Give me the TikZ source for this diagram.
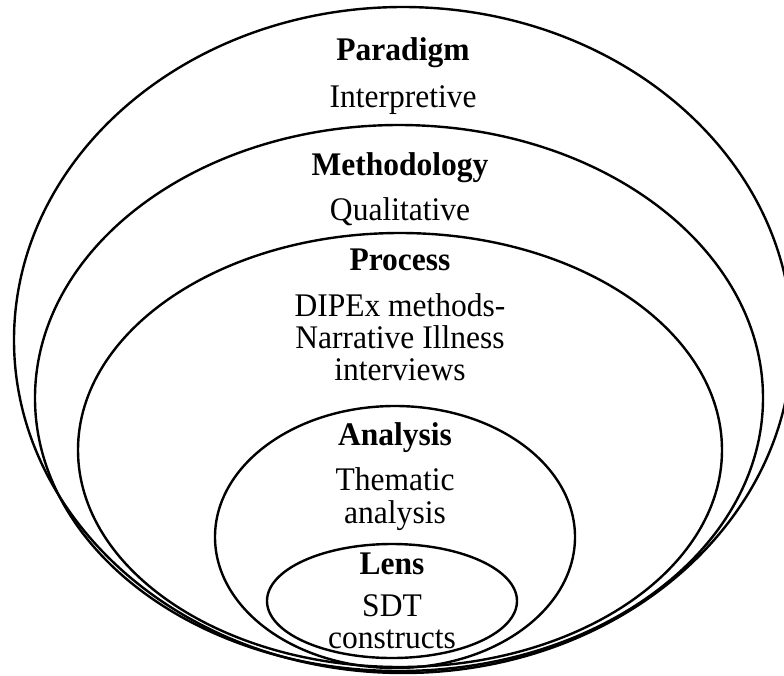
\documentclass[tikz,border=0pt]{standalone}
\usepackage{fontspec}
\setmainfont{Liberation Serif}[FakeStretch=0.955]
\begin{document}
\begin{tikzpicture}[x=1pt,y=-1pt,
  ring/.style={draw=black, line width=2.4pt},
  hd/.style={font=\fontsize{33}{35}\selectfont\bfseries, anchor=base, inner sep=0pt},
  tx/.style={font=\fontsize{33}{35}\selectfont, anchor=base, inner sep=0pt}]
\useasboundingbox (0,0) rectangle (784,675);
\fill[white] (0,0) rectangle (784,675);
% nested rings
\draw[ring] (403,340) ellipse [x radius=389, y radius=333];
\draw[ring] (399,398) ellipse [x radius=364, y radius=273];
\draw[ring] (400,450) ellipse [x radius=322, y radius=217];
\draw[ring] (395,537) ellipse [x radius=180, y radius=131];
\draw[ring] (392,601) ellipse [x radius=125, y radius=57];
% texts
\node[hd] (paradigm) at (403,60) {Paradigm};
\node[tx] (interp) at (403,107) {Interpretive};
\node[hd] (method) at (400,175) {Methodology};
\node[tx] (qual) at (400,220) {Qualitative};
\node[hd] (process) at (400,270) {Process};
\node[tx] (dipex) at (400,316) {DIPEx methods-};
\node[tx] (narr) at (400,348) {Narrative Illness};
\node[tx] (interv) at (400,380) {interviews};
\node[hd] (analysis) at (395,445) {Analysis};
\node[tx] (thematic) at (395,490) {Thematic};
\node[tx] (analysis2) at (395,523) {analysis};
\node[hd] (lens) at (392,574) {Lens};
\node[tx] (sdt) at (392,616) {SDT};
\node[tx] (constructs) at (392,648) {constructs};
\end{tikzpicture}
\end{document}
